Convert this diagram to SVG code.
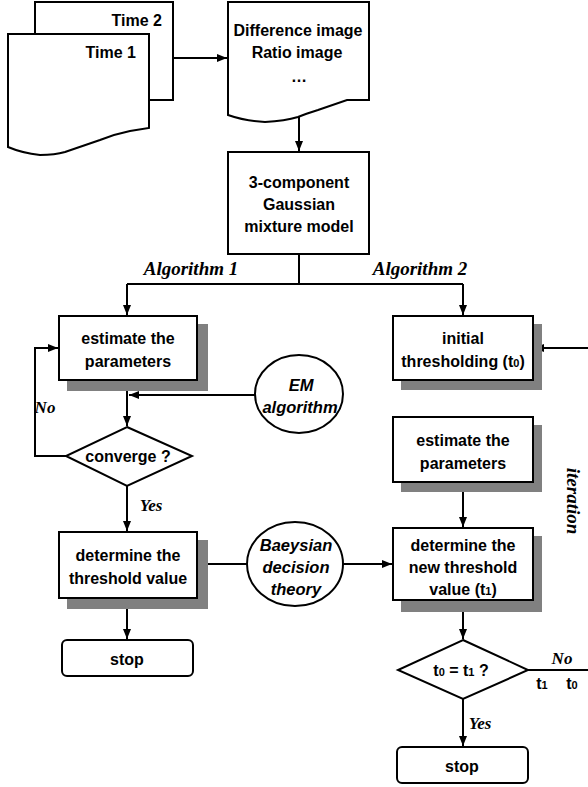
<svg xmlns="http://www.w3.org/2000/svg" width="588" height="787" viewBox="0 0 588 787">
<style>
.box{fill:#fff;stroke:#000;stroke-width:2}
.sh{fill:#808080}
.ln{fill:none;stroke:#000;stroke-width:2}
.t{font-family:"Liberation Sans",Arial,sans-serif;font-weight:bold;font-size:16px;text-anchor:middle;fill:#000}
.ti{font-family:"Liberation Sans",Arial,sans-serif;font-weight:bold;font-style:italic;font-size:16.5px;text-anchor:middle;fill:#000}
.lb{font-family:"Liberation Serif","Times New Roman",serif;font-weight:bold;font-style:italic;font-size:19px;text-anchor:middle;fill:#000}
.yn{font-family:"Liberation Serif","Times New Roman",serif;font-weight:bold;font-style:italic;font-size:17px;text-anchor:middle;fill:#000}
.sub{font-size:11px}
</style>
<defs>
<marker id="ah" markerWidth="10" markerHeight="10" refX="10" refY="5" orient="auto" markerUnits="userSpaceOnUse">
<path d="M0,1 L10,5 L0,9 Z" fill="#000"/>
</marker>
</defs>

<g id="connectors">
<line class="ln" x1="173" y1="58" x2="227" y2="58" marker-end="url(#ah)"/>
<line class="ln" x1="299" y1="116" x2="299" y2="151" marker-end="url(#ah)"/>
<polyline class="ln" points="299,254 299,284"/>
<polyline class="ln" points="127,284 463,284"/>
<polyline class="ln" points="127,284 127,315" marker-end="url(#ah)"/>
<polyline class="ln" points="463,284 463,315" marker-end="url(#ah)"/>
<polyline class="ln" points="127,380 127,426" marker-end="url(#ah)"/>
<polyline class="ln" points="255,395 129,395" marker-end="url(#ah)"/>
<polyline class="ln" points="66,456 35,456 35,348 58,348" marker-end="url(#ah)"/>
<polyline class="ln" points="127,486 127,531" marker-end="url(#ah)"/>
<polyline class="ln" points="247,564 198,564" marker-end="url(#ah)"/>
<polyline class="ln" points="343,564 392,564" marker-end="url(#ah)"/>
<polyline class="ln" points="127,598 127,639" marker-end="url(#ah)"/>
<polyline class="ln" points="588,348 534,348" marker-end="url(#ah)"/>
<polyline class="ln" points="463,482 463,527" marker-end="url(#ah)"/>
<polyline class="ln" points="463,600 463,639" marker-end="url(#ah)"/>
<polyline class="ln" points="528,670 588,670"/>
<polyline class="ln" points="463,699 463,746" marker-end="url(#ah)"/>
</g>

<g id="time2">
<rect class="box" x="35" y="2" width="138" height="98"/>
<text class="t" x="162" y="26" style="text-anchor:end">Time 2</text>
</g>
<g id="time1">
<path class="box" d="M8,34 H149 V128 L130,131 Q115,134 100,140 L65,152 Q55,155 40,155 Q22,153 8,147 Z"/>
<text class="t" x="136" y="58" style="text-anchor:end">Time 1</text>
</g>
<g id="diff">
<path class="box" d="M228,2 H369 V100 H347 L318,110 Q305,114 298,117 Q285,121 265,122 Q245,121 228,115 Z"/>
<text class="t" x="298" y="36">Difference image</text>
<text class="t" x="297" y="58">Ratio image</text>
<text class="t" x="299" y="82">…</text>
</g>
<g id="gmm">
<rect class="box" x="228" y="152" width="141" height="102"/>
<text class="t" x="299" y="188">3-component</text>
<text class="t" x="299" y="210">Gaussian</text>
<text class="t" x="299" y="232">mixture model</text>
</g>
<g id="labels">
<text class="lb" x="191" y="275">Algorithm 1</text>
<text class="lb" x="420" y="275">Algorithm 2</text>
<text class="lb" transform="translate(567,501) rotate(90)">iteration</text>
</g>
<g id="est1">
<rect class="sh" x="67" y="324" width="141" height="67"/>
<rect class="box" x="59" y="316" width="138" height="64"/>
<text class="t" x="128" y="344">estimate the</text>
<text class="t" x="128" y="367">parameters</text>
</g>
<g id="init2">
<rect class="sh" x="401" y="324" width="141" height="66"/>
<rect class="box" x="393" y="316" width="140" height="64"/>
<text class="t" x="463" y="344">initial</text>
<text class="t" x="463" y="367">thresholding (t<tspan class="sub">0</tspan>)</text>
</g>
<g id="em">
<ellipse class="box" cx="299" cy="394" rx="44" ry="39"/>
<text class="ti" x="301" y="391">EM</text>
<text class="ti" x="300" y="413">algorithm</text>
</g>
<g id="converge">
<polygon class="box" points="127,427 192,456 127,486 66,456"/>
<text class="t" x="128" y="462">converge ?</text>
</g>
<g id="yn">
<text class="yn" x="45" y="413">No</text>
<text class="yn" x="151" y="511">Yes</text>
<text class="yn" x="562" y="664">No</text>
<text class="yn" x="480" y="729">Yes</text>
</g>
<g id="det1">
<rect class="sh" x="67" y="540" width="141" height="69"/>
<rect class="box" x="59" y="532" width="138" height="66"/>
<text class="t" x="128" y="561">determine the</text>
<text class="t" x="128" y="584">threshold value</text>
</g>
<g id="bayes">
<ellipse class="box" cx="295" cy="564" rx="48" ry="42"/>
<text class="ti" x="296" y="551">Baeysian</text>
<text class="ti" x="296" y="573">decision</text>
<text class="ti" x="296" y="595">theory</text>
</g>
<g id="stop1">
<rect class="box" x="62" y="640" width="131" height="36" rx="5"/>
<text class="t" x="127" y="665">stop</text>
</g>
<g id="est2">
<rect class="sh" x="401" y="425" width="141" height="67"/>
<rect class="box" x="393" y="417" width="140" height="65"/>
<text class="t" x="463" y="446">estimate the</text>
<text class="t" x="463" y="469">parameters</text>
</g>
<g id="det2">
<rect class="sh" x="401" y="536" width="141" height="76"/>
<rect class="box" x="393" y="528" width="140" height="72"/>
<text class="t" x="463" y="551">determine the</text>
<text class="t" x="463" y="573">new threshold</text>
<text class="t" x="463" y="595">value (t<tspan class="sub">1</tspan>)</text>
</g>
<g id="cmp">
<polygon class="box" points="463,640 528,670 463,699 398,670"/>
<text class="t" x="461" y="676">t<tspan class="sub">0</tspan> = t<tspan class="sub">1</tspan> ?</text>
</g>
<g id="assign">
<text class="t" x="542" y="689">t<tspan class="sub">1</tspan></text>
<text class="t" x="572" y="689">t<tspan class="sub">0</tspan></text>
</g>
<g id="stop2">
<rect class="box" x="397" y="747" width="131" height="36" rx="5"/>
<text class="t" x="462" y="772">stop</text>
</g>
</svg>
